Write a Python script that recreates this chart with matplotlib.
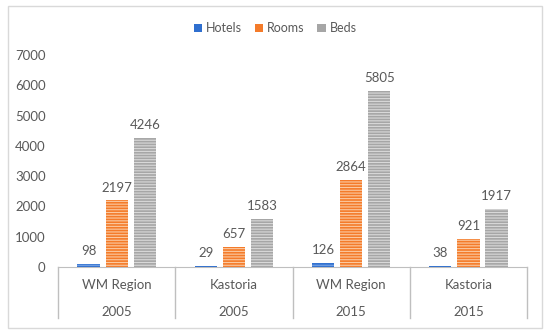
import matplotlib
matplotlib.use('Agg')
import matplotlib.pyplot as plt
import matplotlib.transforms as mtransforms
from matplotlib.patches import Rectangle
import numpy as np

places = ['WM Region', 'Kastoria', 'WM Region', 'Kastoria']
years = ['2005', '2005', '2015', '2015']
hotels = [98, 29, 126, 38]
rooms = [2197, 657, 2864, 921]
beds = [4246, 1583, 5805, 1917]
series_names = ['Hotels', 'Rooms', 'Beds']
colors = ['#2f6fcf', '#f47b2a', '#a6a6a6']
stripe = ['#7aa6e6', '#fbc9a0', '#d9d9d9']

plt.rcParams['font.family'] = ['Lato', 'DejaVu Sans']
plt.rcParams['hatch.linewidth'] = 0.8
txt = '#595959'

fig = plt.figure(figsize=(5.5, 3.34), dpi=100)
ax = fig.add_axes([0.1055, 0.2006, 0.8527, 0.6347])

x = np.arange(len(places))
w = 0.19
step = 0.24
for k, vals in enumerate([hotels, rooms, beds]):
    pos = x + (k - 1) * step
    bars = ax.bar(pos, vals, w, color=colors[k], edgecolor=stripe[k],
                  hatch='------', linewidth=0, label=series_names[k])
    for b, v in zip(bars, vals):
        ax.annotate(str(v), (b.get_x() + b.get_width() / 2, v),
                    xytext=(0, 5), textcoords='offset points',
                    ha='center', va='bottom', fontsize=9.5, color=txt)

ax.set_xlim(-0.5, len(places) - 0.5)
ax.set_ylim(0, 7000)
ax.set_yticks(range(0, 7001, 1000))
ax.tick_params(axis='y', length=0, labelsize=9.5, labelcolor=txt, pad=9)
ax.set_xticks([])
for s in ['top', 'right', 'left']:
    ax.spines[s].set_visible(False)
ax.spines['bottom'].set_color('#bfbfbf')

# two-level category axis
trans = mtransforms.blended_transform_factory(ax.transData, ax.transAxes)
for b in np.arange(-0.5, len(places), 1.0):
    ax.plot([b, b], [0, -0.24], transform=trans, color='#bfbfbf',
            lw=1, clip_on=False)
for i in range(len(places)):
    ax.text(x[i], -0.085, places[i], transform=trans, ha='center',
            va='center', fontsize=9.5, color=txt)
    ax.text(x[i], -0.21, years[i], transform=trans, ha='center',
            va='center', fontsize=9.5, color=txt)

leg = fig.legend(loc='center', bbox_to_anchor=(0.5, 0.915), ncol=3,
                 frameon=False, fontsize=9, handlelength=0.7,
                 handleheight=0.7, handletextpad=0.3, columnspacing=1.0)
for t in leg.get_texts():
    t.set_color(txt)
for h, c in zip(leg.legend_handles, colors):
    h.set_hatch(None)
    h.set_facecolor(c)

fig.patches.append(Rectangle((8 / 550, 6 / 334), 534 / 550, 322 / 334,
                             transform=fig.transFigure, fill=False,
                             edgecolor='#d9d9d9', lw=1))

fig.savefig('out.png', dpi=100)
